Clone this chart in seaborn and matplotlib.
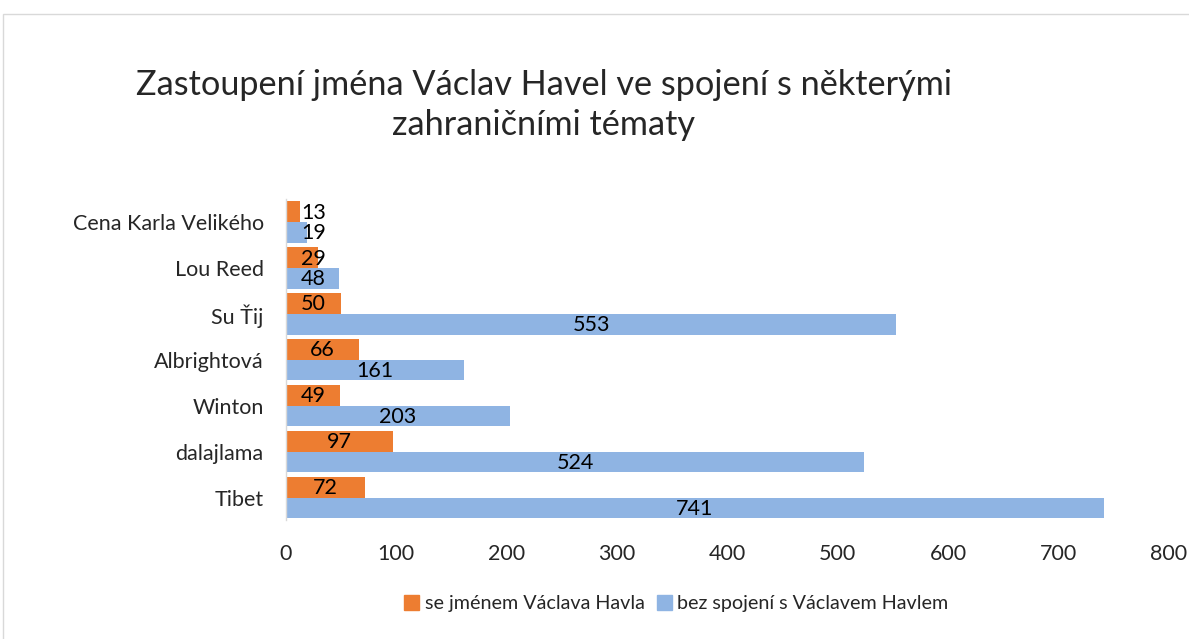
import numpy as np
import pandas as pd
import matplotlib
matplotlib.use('Agg')
import matplotlib.pyplot as plt
import seaborn as sns
from matplotlib.patches import Rectangle

# data
categories = ['Cena Karla Velikého', 'Lou Reed', 'Su Ťij', 'Albrightová',
              'Winton', 'dalajlama', 'Tibet']
se_jmenem = [13, 29, 50, 66, 49, 97, 72]
bez_spojeni = [19, 48, 553, 161, 203, 524, 741]
series_names = ['se jménem Václava Havla', 'bez spojení s Václavem Havlem']
series_colors = ['#ED7D31', '#8FB4E3']
x_ticks = [0, 100, 200, 300, 400, 500, 600, 700, 800]

df = pd.DataFrame({
    'Téma': categories * 2,
    'Počet': se_jmenem + bez_spojeni,
    'Série': [series_names[0]] * len(categories)
             + [series_names[1]] * len(categories),
})

sns.set_style('white')
plt.rcParams['font.family'] = ['Lato', 'DejaVu Sans']

fig = plt.figure(figsize=(11.89, 6.39), dpi=100)
ax = fig.add_axes([0.2405, 0.1855, 0.7426, 0.503])

sns.barplot(
    data=df,
    y='Téma',
    x='Počet',
    hue='Série',
    hue_order=series_names,
    order=categories,
    palette=series_colors,
    saturation=1,
    orient='h',
    width=0.9,
    edgecolor='none',
    legend=False,
    ax=ax
)

# value labels, centred in the bar but kept off the axis line
values = [se_jmenem, bez_spojeni]
for container, vals in zip(ax.containers, values):
    for bar, v in zip(container, vals):
        ax.text(
            max(v / 2, 25),
            bar.get_y() + bar.get_height() / 2 + 0.02,
            str(v),
            ha='center',
            va='center',
            fontsize=15.5,
            color='#000000'
        )

ax.set_xlim(0, 800)
ax.set_xticks(x_ticks)
ax.set_xticklabels([str(t) for t in x_ticks], fontsize=15.5)
ax.tick_params(axis='y', labelsize=15.5, length=0, pad=16)
ax.tick_params(axis='x', length=0, pad=17)
ax.set_xlabel('')
ax.set_ylabel('')

for side in ['top', 'right', 'bottom']:
    ax.spines[side].set_visible(False)
ax.spines['left'].set_color('#D9D9D9')
ax.spines['left'].set_linewidth(1)

fig.text(
    0.4575, 0.836,
    'Zastoupení jména Václav Havel ve spojení s některými\nzahraničními tématy',
    ha='center',
    va='center',
    fontsize=24.7,
    linespacing=1.3
)

handles = [Rectangle((0, 0), 1, 1, color=c) for c in series_colors]
fig.legend(
    handles,
    series_names,
    loc='center',
    bbox_to_anchor=(0.569, 0.055),
    ncol=2,
    frameon=False,
    fontsize=14.2,
    handlelength=0.75,
    handleheight=0.75,
    handletextpad=0.3,
    columnspacing=0.6
)

fig.patches.append(Rectangle(
    (3 / 1189, -0.01), 1.1, 1 - 14 / 639 + 0.01,
    transform=fig.transFigure,
    facecolor='none',
    edgecolor='#D9D9D9',
    linewidth=1
))

fig.savefig('out.png', dpi=100)
